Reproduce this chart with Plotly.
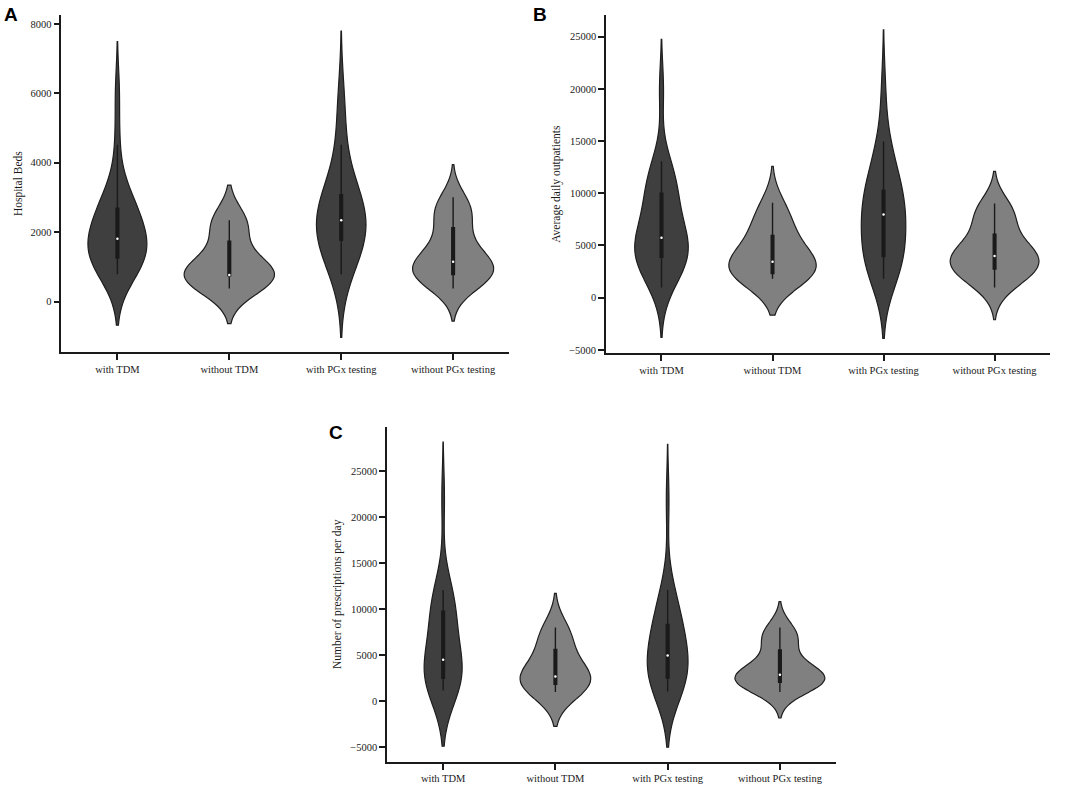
import numpy as np
import plotly.graph_objects as go


# --------------------------------------------------
# Daten
# --------------------------------------------------
CATEGORIES = ["with TDM", "without TDM", "with PGx testing", "without PGx testing"]

# A) Hospital Beds
beds_with_tdm = [785, 900, 1000, 1080, 1150, 1210, 1265, 1350, 1450, 1550, 1650, 1730, 1811,
                 1900, 2000, 2150, 2300, 2480, 2673, 2750, 2850, 3000, 3250, 4521, 6028]
beds_without_tdm = [374, 450, 520, 600, 650, 700, 756, 758, 760, 760, 762, 764, 765,
                    800, 900, 1000, 1150, 1350, 1598, 2150, 2200, 2250, 2300, 2330, 2346]
beds_with_pgx = [785, 1000, 1200, 1400, 1550, 1700, 1791, 1850, 1950, 2050, 2150, 2250, 2346,
                 2450, 2550, 2650, 2750, 2900, 3036, 3200, 3400, 3700, 4521, 5300, 5978]
beds_without_pgx = [374, 500, 600, 680, 730, 760, 785, 850, 920, 980, 1030, 1090, 1150,
                    1220, 1300, 1450, 1650, 1850, 2058, 2350, 2500, 2600, 2700, 2850, 3007]

# B) Average daily outpatients
outp_with_tdm = [960, 1800, 2500, 3000, 3400, 3700, 3923, 4200, 4500, 4800, 5100, 5400, 5737,
                 6200, 6800, 7500, 8300, 9000, 9875, 10400, 10900, 11500, 12200, 13057, 19974]
outp_without_tdm = [1815, 1950, 2050, 2150, 2200, 2260, 2326, 2500, 2700, 2900, 3100, 3250, 3440,
                    3700, 4000, 4400, 4800, 5300, 5832, 6300, 6900, 7500, 8000, 8600, 9080]
outp_with_pgx = [1815, 2300, 2750, 3150, 3500, 3750, 3980, 4600, 5200, 5900, 6600, 7300, 7963,
                 8300, 8650, 9000, 9350, 9700, 10093, 10900, 11800, 12800, 13800, 14966, 19910]
outp_without_pgx = [960, 1500, 1900, 2200, 2450, 2650, 2775, 3000, 3200, 3400, 3600, 3800, 3980,
                    4200, 4450, 4700, 5000, 5350, 5700, 7200, 7600, 7900, 8200, 8600, 9013]

# C) Number of prescriptions per day
presc_with_tdm = [1190, 1300, 1450, 1650, 1900, 2250, 2597, 2900, 3250, 3600, 3900, 4200, 4502,
                  5500, 6500, 7400, 8200, 8900, 9632, 10300, 10900, 11400, 11800, 12078, 22079]
presc_without_tdm = [1006, 1250, 1450, 1600, 1700, 1790, 1872, 2000, 2150, 2300, 2450, 2580, 2705,
                     2900, 3200, 3600, 4100, 4700, 5335, 6500, 6800, 7100, 7400, 7700, 8008]
presc_with_pgx = [1082, 1300, 1500, 1750, 2000, 2300, 2597, 3000, 3450, 3900, 4300, 4650, 4978,
                  5600, 6200, 6800, 7300, 7700, 8117, 9000, 9800, 10600, 11400, 12078, 21835]
presc_without_pgx = [1006, 1600, 1800, 1900, 1980, 2040, 2089, 2200, 2350, 2500, 2650, 2770, 2885,
                     3000, 3150, 3350, 3700, 4300, 5335, 6300, 6700, 7000, 7300, 7650, 8008]

# KDE-Bandbreiten je Violine
bw_beds = [733, 505, 910, 470]
bw_outp = [2388, 1750, 2865, 1540]
bw_presc = [3030, 1856, 3030, 1407]

# Achsenbeschriftungen
ticks_beds = [0, 2000, 4000, 6000, 8000]
ticklabels_beds = ["0", "2000", "4000", "6000", "8000"]
ticks_big = [-5000, 0, 5000, 10000, 15000, 20000, 25000]
ticklabels_big = ["\u22125000", "0", "5000", "10000", "15000", "20000", "25000"]


PANELS = [
    dict(letter="A", title="Hospital Beds",
         series=[beds_with_tdm, beds_without_tdm, beds_with_pgx, beds_without_pgx],
         bw=bw_beds, yrange=[-1466, 8259], ticks=ticks_beds, labels=ticklabels_beds,
         xdom=[0.0577, 0.478], ydom=[0.5511, 0.9809]),
    dict(letter="B", title="Average daily outpatients",
         series=[outp_with_tdm, outp_without_tdm, outp_with_pgx, outp_without_pgx],
         bw=bw_outp, yrange=[-5344, 27073], ticks=ticks_big, labels=ticklabels_big,
         xdom=[0.569, 0.986], ydom=[0.5498, 0.9809]),
    dict(letter="C", title="Number of prescriptions per day",
         series=[presc_with_tdm, presc_without_tdm, presc_with_pgx, presc_without_pgx],
         bw=bw_presc, yrange=[-6558, 29794], ticks=ticks_big, labels=ticklabels_big,
         xdom=[0.3634, 0.785], ydom=[0.0296, 0.4562]),
]

FILLS = ["#3f3f3f", "#808080", "#3f3f3f", "#808080"]
SERIF = "Liberation Serif, Times New Roman, serif"


def plot_violins():
    fig = go.Figure()

    # --------------------------------------------------
    # Violinen je Panel (gemeinsame Flaechenskalierung je Panel)
    # --------------------------------------------------
    for p_idx, panel in enumerate(PANELS):
        sfx = "" if p_idx == 0 else str(p_idx + 1)
        for cat, values, bw, fill in zip(CATEGORIES, panel["series"], panel["bw"], FILLS):
            fig.add_trace(go.Violin(
                x=[cat] * len(values),
                y=values,
                name=cat,
                xaxis="x" + sfx,
                yaxis="y" + sfx,
                scalegroup=panel["letter"],
                scalemode="width",
                bandwidth=bw,
                spanmode="soft",
                points=False,
                fillcolor=fill,
                opacity=1,
                line=dict(color="#1e1e1e", width=1.2),
                box=dict(visible=True, width=0.03, fillcolor="#1a1a1a",
                         line=dict(color="#1a1a1a", width=1.4)),
                meanline=dict(visible=False),
                showlegend=False,
                hoverinfo="skip",
            ))
            # weisser Median-Punkt
            fig.add_trace(go.Scatter(
                x=[cat],
                y=[float(np.median(values))],
                mode="markers",
                xaxis="x" + sfx,
                yaxis="y" + sfx,
                marker=dict(color="white", size=2.5),
                showlegend=False,
                hoverinfo="skip",
            ))

    # --------------------------------------------------
    # Layout
    # --------------------------------------------------
    layout = dict(
        width=1065,
        height=787,
        margin=dict(l=0, r=0, t=0, b=0),
        paper_bgcolor="white",
        plot_bgcolor="white",
        violinmode="overlay",
        violingap=0.2,
        violingroupgap=0,
        font=dict(family=SERIF, size=11, color="#1a1a1a"),
        annotations=[],
    )

    letter_pos = {"A": (2, 15), "B": (531, 15), "C": (327, 434)}

    for p_idx, panel in enumerate(PANELS):
        sfx = "" if p_idx == 0 else str(p_idx + 1)
        layout["xaxis" + sfx] = dict(
            domain=panel["xdom"],
            anchor="y" + sfx,
            type="category",
            categoryorder="array",
            categoryarray=CATEGORIES,
            range=[-0.5, 3.5],
            showline=True, linecolor="#1a1a1a", linewidth=1.5,
            ticks="outside", ticklen=6, tickwidth=1.5, tickcolor="#1a1a1a",
            showgrid=False, zeroline=False,
            tickfont=dict(family=SERIF, size=10.5),
        )
        layout["yaxis" + sfx] = dict(
            domain=panel["ydom"],
            anchor="x" + sfx,
            range=panel["yrange"],
            tickmode="array",
            tickvals=panel["ticks"],
            ticktext=panel["labels"],
            showline=True, linecolor="#1a1a1a", linewidth=1.5,
            ticks="outside", ticklen=6, tickwidth=1.5, tickcolor="#1a1a1a",
            showgrid=False, zeroline=False,
            tickfont=dict(family=SERIF, size=10.5),
            title=dict(text=panel["title"], standoff=6,
                       font=dict(family=SERIF, size=11.5)),
        )
        lx, ly = letter_pos[panel["letter"]]
        layout["annotations"].append(dict(
            text="<b>%s</b>" % panel["letter"],
            xref="paper", yref="paper",
            x=lx / 1065, y=1 - ly / 787,
            xanchor="left", yanchor="middle",
            showarrow=False,
            font=dict(family="Liberation Sans, Arial, sans-serif", size=19, color="black"),
        ))

    fig.update_layout(**layout)

    # --------------------------------------------------
    # Speichern
    # --------------------------------------------------
    fig.write_html("out.html", config={"displayModeBar": False},
                   post_script="document.body.style.margin='0px';")
    print("Plot gespeichert: out.html")


if __name__ == "__main__":
    plot_violins()
